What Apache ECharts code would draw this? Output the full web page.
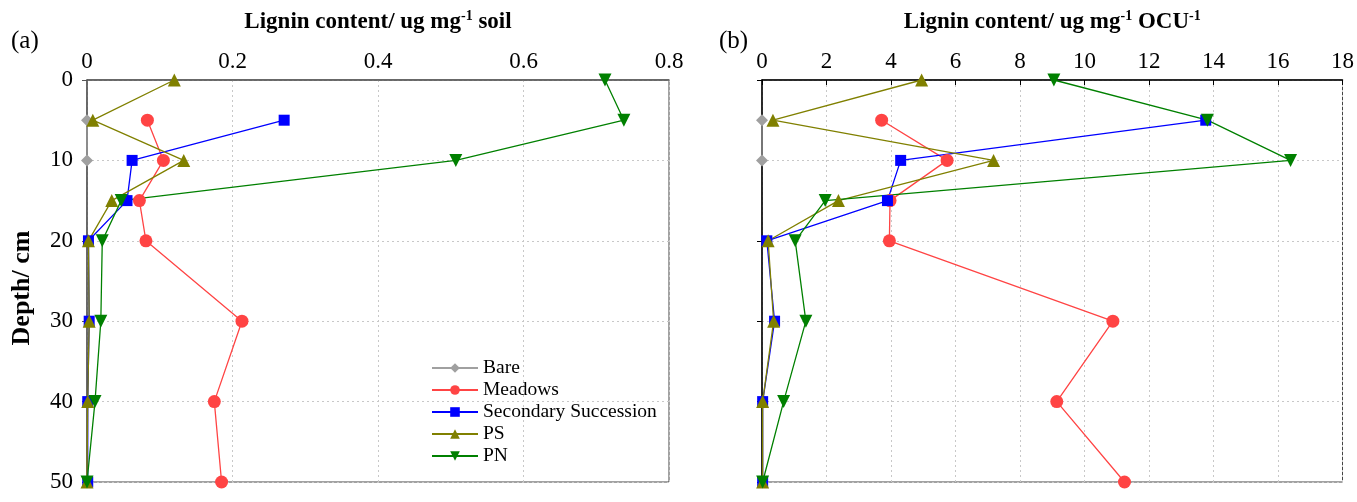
<!DOCTYPE html>
<html><head><meta charset="utf-8">
<script src="https://cdn.jsdelivr.net/npm/echarts@6/dist/echarts.min.js"></script>
<style>html,body{margin:0;padding:0;background:#fff}#c{width:1357px;height:502px}</style>
</head><body><div id="c"></div>
<script>
const depths = [0, 5, 10, 15, 20, 30, 40, 50];
const seriesNames = ['Bare', 'Meadows', 'Secondary Succession', 'PS', 'PN'];
// Panel (a): ug mg-1 soil  (null = not shown)
const soilBare    = [null, 0.000, 0.000, null, null, null, null, null];
const soilMeadows = [null, 0.083, 0.105, 0.072, 0.081, 0.213, 0.175, 0.185];
const soilSS      = [null, 0.271, 0.062, 0.055, 0.002, 0.003, 0.001, 0.001];
const soilPS      = [0.120, 0.008, 0.133, 0.034, 0.002, 0.003, 0.001, 0.000];
const soilPN      = [0.712, 0.738, 0.507, 0.047, 0.021, 0.019, 0.011, 0.000];
// Panel (b): ug mg-1 OCU-1
const ocuBare    = [null, 0.00, 0.00, null, null, null, null, null];
const ocuMeadows = [null, 3.71, 5.74, 3.97, 3.95, 10.88, 9.14, 11.24];
const ocuSS      = [null, 13.76, 4.30, 3.89, 0.15, 0.39, 0.02, 0.02];
const ocuPS      = [4.95, 0.34, 7.18, 2.37, 0.19, 0.36, 0.02, 0.02];
const ocuPN      = [9.05, 13.81, 16.39, 1.96, 1.03, 1.36, 0.67, 0.02];
const xTicksA = [0, 0.2, 0.4, 0.6, 0.8];
const xTicksB = [0, 2, 4, 6, 8, 10, 12, 14, 16, 18];

const FONT = '"Liberation Serif", "Times New Roman", serif';
const styles = {
  'Bare': {color: '#a0a0a0', symbol: 'diamond', size: 12, rot: 0},
  'Meadows': {color: '#ff4444', symbol: 'circle', size: 13, rot: 0},
  'Secondary Succession': {color: '#0000ff', symbol: 'rect', size: 11, rot: 0},
  'PS': {color: '#808000', symbol: 'triangle', size: 13, rot: 0},
  'PN': {color: '#008000', symbol: 'triangle', size: 13, rot: 180}
};
function pairs(vals) {
  const out = [];
  vals.forEach((v, i) => { if (v !== null) out.push([v, depths[i]]); });
  return out;
}
function mkSeries(name, vals, idx) {
  const s = styles[name];
  return {
    name, type: 'line', xAxisIndex: idx, yAxisIndex: idx,
    data: pairs(vals), symbol: s.symbol, symbolSize: s.size, symbolRotate: s.rot,
    itemStyle: {color: s.color}, lineStyle: {color: s.color, width: 1.3},
    z: 3
  };
}
const gridStyle = {show: true, lineStyle: {color: '#c8c8c8', type: [2, 3], width: 1}};
function xAx(idx, max, interval, name, axisColor, tickShow) {
  return {
    type: 'value', gridIndex: idx, position: 'top', min: 0, max, interval,
    name, nameLocation: 'middle', nameGap: 45,
    nameTextStyle: {
      fontFamily: FONT, fontWeight: 'bold', fontSize: 23, color: '#000',
      rich: {
        b: {fontFamily: FONT, fontWeight: 'bold', fontSize: 23, color: '#000'},
        sup: {fontFamily: FONT, fontWeight: 'bold', fontSize: 14, color: '#000', verticalAlign: 'top', padding: [0, 0, 12, 0]}
      }
    },
    axisLine: {show: true, lineStyle: {color: axisColor, width: 1.5}},
    axisTick: {show: tickShow, inside: true, length: 5, lineStyle: {color: axisColor}},
    axisLabel: {fontFamily: FONT, fontSize: 23, color: '#000', margin: 7,
      formatter: v => String(v)},
    splitLine: gridStyle
  };
}
function yAx(idx, showLabels, axisColor) {
  return {
    type: 'value', gridIndex: idx, inverse: true, min: 0, max: 50, interval: 10,
    axisLine: {show: true, lineStyle: {color: axisColor, width: 1.5}},
    axisTick: {show: true, inside: false, length: 5, lineStyle: {color: axisColor}},
    axisLabel: {show: showLabels, fontFamily: FONT, fontSize: 23, color: '#000', margin: 14},
    splitLine: gridStyle
  };
}
const chart = echarts.init(document.getElementById('c'), null, {renderer: 'canvas'});
chart.setOption({
  animation: false,
  backgroundColor: '#fff',
  grid: [
    {left: 87, right: 688, top: 80, bottom: 20, show: true, borderColor: '#444', borderWidth: 1},
    {left: 762, right: 14, top: 80, bottom: 20, show: true, borderColor: '#444', borderWidth: 1}
  ],
  xAxis: [
    xAx(0, xTicksA[xTicksA.length - 1], xTicksA[1] - xTicksA[0], '{b|Lignin content/ ug mg}{sup|-1}{b| soil}', '#555', false),
    xAx(1, xTicksB[xTicksB.length - 1], xTicksB[1] - xTicksB[0], '{b|Lignin content/ ug mg}{sup|-1}{b| OCU}{sup|-1}', '#000', true)
  ],
  yAxis: [yAx(0, true, '#555'), yAx(1, false, '#000')],
  legend: {
    left: 426, top: 352, orient: 'vertical', itemGap: 0, itemWidth: 46, itemHeight: 12,
    data: seriesNames,
    textStyle: {fontFamily: FONT, fontSize: 19.5, color: '#000', lineHeight: 22}
  },
  graphic: [
    {type: 'text', left: 11, top: 29, style: {text: '(a)', fontFamily: FONT, fontSize: 25, fill: '#000'}},
    {type: 'text', left: 719, top: 29, style: {text: '(b)', fontFamily: FONT, fontSize: 25, fill: '#000'}},
    {type: 'text', x: 22, y: 288, rotation: Math.PI / 2,
      style: {text: 'Depth/ cm', fontFamily: FONT, fontWeight: 'bold', fontSize: 26, fill: '#000',
        align: 'center', verticalAlign: 'middle'}}
  ],
  series: [
    mkSeries('Bare', soilBare, 0), mkSeries('Meadows', soilMeadows, 0),
    mkSeries('Secondary Succession', soilSS, 0), mkSeries('PS', soilPS, 0), mkSeries('PN', soilPN, 0),
    mkSeries('Bare', ocuBare, 1), mkSeries('Meadows', ocuMeadows, 1),
    mkSeries('Secondary Succession', ocuSS, 1), mkSeries('PS', ocuPS, 1), mkSeries('PN', ocuPN, 1)
  ]
});
</script></body></html>
